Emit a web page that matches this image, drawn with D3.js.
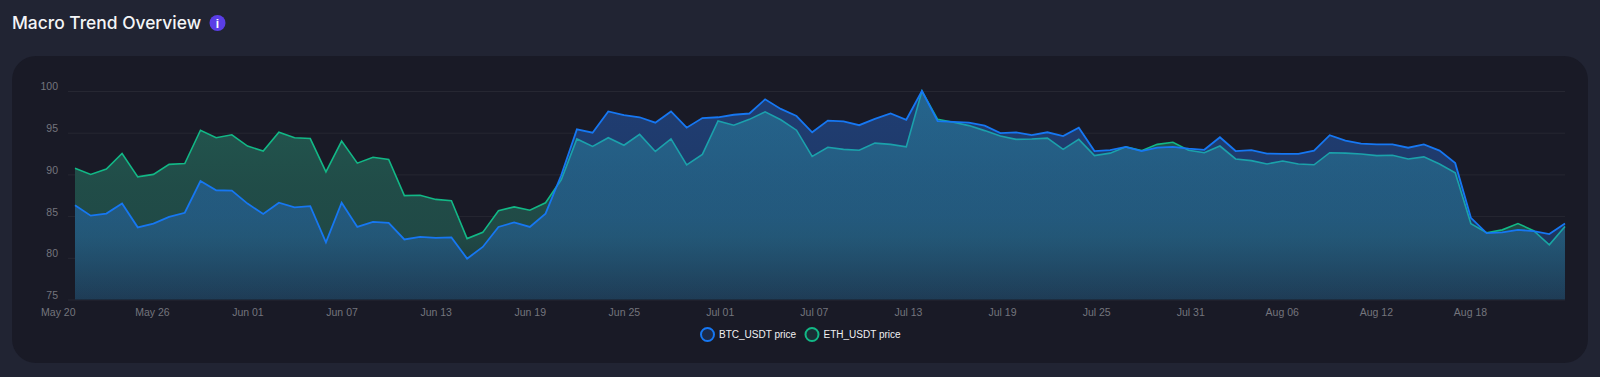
<!DOCTYPE html>
<html>
<head>
<meta charset="utf-8">
<title>Macro Trend Overview</title>
<script src="https://cdn.jsdelivr.net/npm/d3@7"></script>
<style>
  html, body { margin: 0; padding: 0; background: #212433; overflow: hidden; }
  svg { display: block; }
  text { font-family: "Liberation Sans", Arial, sans-serif; }
  .domain { display: none; }
</style>
</head>
<body>
<script>
// values, one per day starting May 20
var startDay = "May 20 2024";
var btcValues = [
  86.3, 85.05, 85.3, 86.5, 83.65, 84.1, 84.9, 85.4, 89.2, 88.1, 88.05, 86.5, 85.25, 86.6, 86.05, 86.2,
  81.85, 86.6, 83.7, 84.3, 84.2, 82.2, 82.5, 82.4, 82.45, 79.9, 81.3, 83.7, 84.25, 83.7, 85.3, 89.9,
  95.4, 95.0, 97.55, 97.1, 96.85, 96.2, 97.55, 95.6, 96.75, 96.85, 97.15, 97.3, 99.0, 97.85, 97.0, 95.05,
  96.45, 96.35, 95.9, 96.65, 97.3, 96.55, 100, 96.4, 96.3, 96.2, 95.85, 94.95, 95.05, 94.7, 95.05, 94.6,
  95.6, 92.8, 92.9, 93.3, 92.8, 93.2, 93.3, 93.1, 92.95, 94.45, 92.8, 92.9, 92.5, 92.45, 92.45, 92.85,
  94.7, 94.05, 93.7, 93.6, 93.6, 93.2, 93.6, 92.85, 91.35, 84.8, 82.95, 83.05, 83.35, 83.2, 82.85, 84.1
];
var ethValues = [
  90.75, 90.0, 90.65, 92.5, 89.7, 90.0, 91.2, 91.3, 95.3, 94.4, 94.75, 93.4, 92.8, 95.05, 94.4, 94.3,
  90.3, 94.0, 91.35, 92.05, 91.8, 87.45, 87.5, 87.0, 86.85, 82.3, 83.05, 85.65, 86.1, 85.7, 86.6, 89.35,
  94.25, 93.35, 94.4, 93.5, 94.8, 92.75, 94.25, 91.15, 92.4, 96.4, 95.9, 96.6, 97.5, 96.55, 95.3, 92.15,
  93.25, 93.0, 92.9, 93.75, 93.6, 93.3, 100, 96.6, 96.25, 95.85, 95.25, 94.6, 94.2, 94.25, 94.35, 93.0,
  94.2, 92.25, 92.55, 93.3, 92.85, 93.6, 93.85, 92.9, 92.6, 93.4, 91.85, 91.65, 91.25, 91.6, 91.25, 91.15,
  92.6, 92.55, 92.45, 92.25, 92.3, 91.85, 92.1, 91.25, 90.2, 84.1, 83.0, 83.35, 84.1, 83.25, 81.55, 83.75
];
var yTicks = [75, 80, 85, 90, 95, 100];
var xTickLabels = ["May 20", "May 26", "Jun 01", "Jun 07", "Jun 13", "Jun 19", "Jun 25", "Jul 01",
  "Jul 07", "Jul 13", "Jul 19", "Jul 25", "Jul 31", "Aug 06", "Aug 12", "Aug 18"];
var legendLabels = ["BTC_USDT price", "ETH_USDT price"];

var width = 1600, height = 377;
var panelColor = "#191a26";

var parseDay = d3.timeParse("%b %d %Y");
var firstDay = parseDay(startDay);
var days = btcValues.map(function(d, i) { return d3.timeDay.offset(firstDay, i); });
var tickDays = xTickLabels.map(function(d) { return parseDay(d + " 2024"); });

var x = d3.scaleTime()
  .domain([days[0], days[days.length - 1]])
  .range([75, 1565]);

var y = d3.scaleLinear()
  .domain([75, 100])
  .range([299.5, 91]);

var svg = d3.select("body").append("svg")
  .attr("width", width)
  .attr("height", height);

// fills fade out towards the x axis
var defs = svg.append("defs");
function addGradient(id, color, stops) {
  var g = defs.append("linearGradient")
    .attr("id", id)
    .attr("gradientUnits", "userSpaceOnUse")
    .attr("x1", 0).attr("x2", 0)
    .attr("y1", y(100)).attr("y2", y(75));
  stops.forEach(function(s) {
    g.append("stop")
      .attr("offset", s[0])
      .attr("stop-color", color)
      .attr("stop-opacity", s[1]);
  });
}
addGradient("fill-eth", "#2fae8a", [[0, 0.42], [0.45, 0.34], [0.7, 0.32], [1, 0.14]]);
addGradient("fill-btc", "#2a78f0", [[0, 0.38], [0.6, 0.32], [1, 0.18]]);

// title and info badge
svg.append("text")
  .attr("x", 12).attr("y", 29)
  .attr("fill", "#f4f5f7")
  .style("font-family", "Inter")
  .style("font-size", "17.4px")
  .style("font-weight", 500)
  .text("Macro Trend Overview");

svg.append("circle")
  .attr("cx", 217.5).attr("cy", 23).attr("r", 8)
  .attr("fill", "#5a3ee6");
svg.append("text")
  .attr("x", 217.5).attr("y", 27.5)
  .attr("text-anchor", "middle")
  .attr("fill", "#ffffff")
  .style("font-size", "12px")
  .style("font-weight", 700)
  .text("i");

// chart panel
svg.append("rect")
  .attr("x", 12).attr("y", 56)
  .attr("width", 1576).attr("height", 307)
  .attr("rx", 24)
  .attr("fill", panelColor);

// y axis with the ticks stretched into gridlines
var yAxis = d3.axisLeft(y)
  .tickValues(yTicks)
  .tickSize(0)
  .tickPadding(10);

var yGroup = svg.append("g")
  .attr("transform", "translate(68,0)")
  .call(yAxis);
yGroup.selectAll(".tick line")
  .attr("x2", 1565 - 68)
  .attr("stroke", "#262732");
yGroup.selectAll(".tick text")
  .attr("fill", "#74757d")
  .attr("dy", "-0.1em")
  .style("font-size", "10.5px");

var area = d3.area()
  .x(function(d, i) { return x(days[i]); })
  .y0(y(75))
  .y1(function(d) { return y(d); });

var line = d3.line()
  .x(function(d, i) { return x(days[i]); })
  .y(function(d) { return y(d); });

// gridlines don't show through the fills, so cover them first
[ethValues, btcValues].forEach(function(values) {
  svg.append("path")
    .datum(values)
    .attr("d", area)
    .attr("fill", panelColor);
});

// eth first, btc goes on top of it
svg.append("path")
  .datum(ethValues)
  .attr("d", area)
  .attr("fill", "url(#fill-eth)");
svg.append("path")
  .datum(ethValues)
  .attr("d", line)
  .attr("fill", "none")
  .attr("stroke", "#12b886")
  .attr("stroke-width", 1.6);

svg.append("path")
  .datum(btcValues)
  .attr("d", area)
  .attr("fill", "url(#fill-btc)");
svg.append("path")
  .datum(btcValues)
  .attr("d", line)
  .attr("fill", "none")
  .attr("stroke", "#1677f2")
  .attr("stroke-width", 1.8);

// x axis labels end at their tick
var xAxis = d3.axisBottom(x)
  .tickValues(tickDays)
  .tickFormat(d3.timeFormat("%b %d"))
  .tickSize(0)
  .tickPadding(9);

var xGroup = svg.append("g")
  .attr("transform", "translate(0," + y(75) + ")")
  .call(xAxis);
xGroup.selectAll(".tick text")
  .attr("text-anchor", "end")
  .attr("fill", "#74757d")
  .style("font-size", "10.5px");

// legend
var legendColors = ["#1677f2", "#12b886"];
var legendX = [707.5, 812];
var legend = svg.selectAll(".legend-item")
  .data(legendLabels)
  .enter()
  .append("g")
  .attr("class", "legend-item")
  .attr("transform", function(d, i) { return "translate(" + legendX[i] + ",334.5)"; });

legend.append("circle")
  .attr("r", 6.5)
  .attr("fill", function(d, i) { return i == 0 ? "#1b2a4a" : "#1a2f35"; })
  .attr("stroke", function(d, i) { return legendColors[i]; })
  .attr("stroke-width", 2);

legend.append("text")
  .attr("x", 11.5)
  .attr("y", 3.5)
  .attr("fill", "#f0f0f2")
  .style("font-size", "10px")
  .text(function(d) { return d; });
</script>
</body>
</html>
